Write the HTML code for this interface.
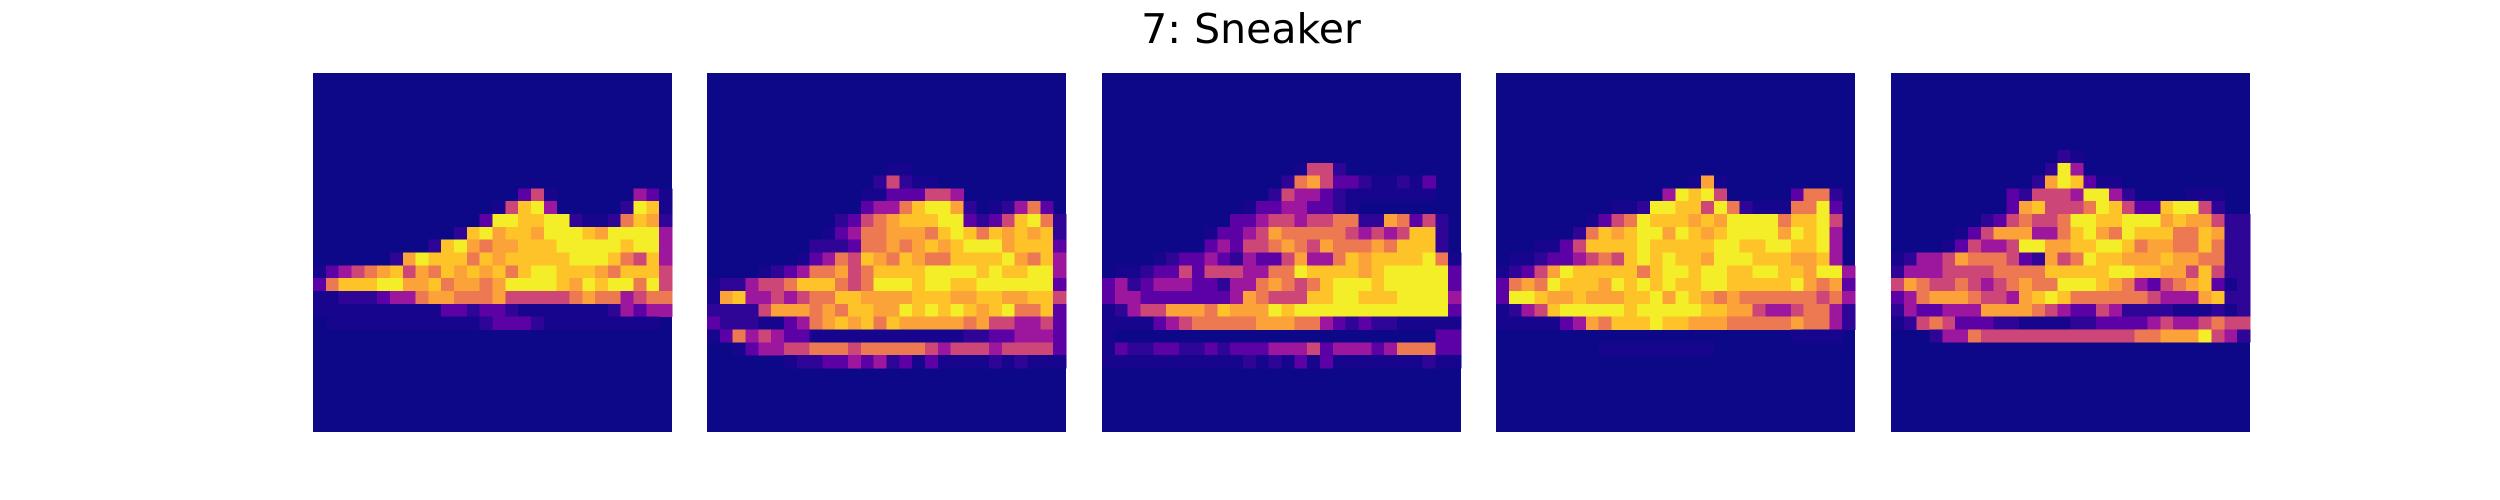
<!DOCTYPE html>
<html><head><meta charset="utf-8"><style>
html,body{margin:0;padding:0;background:#fff;width:2500px;height:500px;overflow:hidden}
svg{display:block}
</style></head><body>
<svg id="fig" width="2500" height="500" xmlns="http://www.w3.org/2000/svg">
<rect width="2500" height="500" fill="#ffffff"/>
<text x="1251" y="43" text-anchor="middle" font-family="'DejaVu Sans','Liberation Sans',sans-serif" font-size="41" fill="#000">7: Sneaker</text>
<g id="panels"></g>
</svg>
<script>
const classLabel = "7: Sneaker";
const panelIds = ["sample-1","sample-2","sample-3","sample-4","sample-5"];
const Z = "0000000000000000000000000000";
const img1 = [Z,Z,Z,Z,Z,Z,Z,Z,Z,
"0000000000000000351000000431",
"0000000000000015894000002981",
"0000000000000399889921126872",
"0000000000028978879998799994",
"0000000002897677888999998994",
"0000002798886878888899986584",
"1345678576878786899888768885",
"3688899778677679999879899695",
"1122234467766675555567664566",
"1111111111332332111111124344",
"0111111111111233321111111110",
Z,Z,Z,Z,Z,Z,Z,Z];
const img2 = [Z,Z,Z,Z,Z,Z,Z,
"0000000000000011000000000000",
"0000000000000252110000000000",
"0000000000001133355400000000",
"0000000000003446899720124630",
"0000000000235678889932358962",
"0000000001346677768986878782",
"0000000022236676787899978883",
"0000000134658768766888897684",
"0000123466756888899998988994",
"1224556888656999899889999993",
"1784454566887777888778877885",
"2222577767688779898987896683",
"3222113467878687777767554453",
"1364543311111111111122334443",
"0013445566656666654555455553",
"0000001223343423131111212111",
Z,Z,Z,Z,Z];
const img3 = [Z,Z,Z,Z,Z,Z,Z,
"0000000000000001552000000000",
"0000000000000026753321121300",
"0000000000000254432111111100",
"0000000000013344332100000000",
"0000000000334554556622763520",
"0000000013345766666545458820",
"0000000034355676576667688820",
"0000123343243357446878888961",
"0112335355544669888878999993",
"3423444332446765689998999993",
"3443333333476555889988899994",
"1245577768777989999999999993",
"1111345666667776643232211111",
"1000000000000000000000000033",
"1322332232333444534443466633",
"1111111111121213131111111211",
Z,Z,Z,Z,Z];
const img4 = [Z,Z,Z,Z,Z,Z,Z,Z,
"0000000000000001710000000000",
"0000000000000498950000036620",
"0000000001129988596211166930",
"0000000135698887879999688950",
"0000002687899798789999798940",
"0001135888898888899889988940",
"0112334565898988799988877840",
"1235798888868998998899887994",
"3676988879898988998888897673",
"3998778777889798767666666564",
"1245899999899999887754456642",
"1111134768889887776666676642",
"0000000000000000000000011110",
"0000000011111111100000000000",
Z,Z,Z,Z,Z,Z];
const img5 = [Z,Z,Z,Z,Z,Z,
"0000000000000210000000000000",
"0000000000002940000000000000",
"0000000000027983110000000000",
"0000000003255549942000011100",
"0000000003785556985338995200",
"0000000235655699889997877522",
"0000013577744689769888668722",
"0000135445997788998677668622",
"1244576665327569887778776622",
"2444555566668888899887758522",
"5765565456766999876435678312",
"3467776554789866666654447822",
"2433444777765433542222111212",
"1256533322111122333345445655",
"0002446555555555555667779542",
Z,Z,Z,Z,Z,Z,Z];
const images = [img1,img2,img3,img4,img5];
const palette = ["#0d0887","#17068d","#2e0597","#5c01a6","#9c179e","#cc4778","#ed7953","#fba238","#fdc328","#f3ee27"];

const panelLeft = [313,707,1102,1496,1891];
const panelTop = 73, panelSize = 359, gridN = 28;
const NS = "http://www.w3.org/2000/svg";
const root = document.getElementById("panels");
const cellW = panelSize / gridN;
function xScale(p, c){ return panelLeft[p] + c * cellW; }
function yScale(r){ return panelTop + r * cellW; }
images.forEach((img, p) => {
  const g = document.createElementNS(NS, "g");
  
  
  g.setAttribute("shape-rendering", "crispEdges");
  const bg = document.createElementNS(NS, "rect");
  bg.setAttribute("x", panelLeft[p]); bg.setAttribute("y", panelTop);
  bg.setAttribute("width", panelSize); bg.setAttribute("height", panelSize);
  bg.setAttribute("fill", palette[0]);
  
  
  g.appendChild(bg);
  img.forEach((row, r) => {
    for (let c = 0; c < gridN; c++) {
      const v = +row[c];
      if (!v) continue;
      const x0 = xScale(p, c), x1 = xScale(p, c + 1);
      const y0 = yScale(r), y1 = yScale(r + 1);
      const rect = document.createElementNS(NS, "rect");
      rect.setAttribute("x", x0.toFixed(2));
      rect.setAttribute("y", y0.toFixed(2));
      rect.setAttribute("width", (x1 - x0 + 0.4).toFixed(2));
      rect.setAttribute("height", (y1 - y0 + 0.4).toFixed(2));
      rect.setAttribute("fill", palette[v]);
      
      
      g.appendChild(rect);
    }
  });
  root.appendChild(g);
});
</script>
</body></html>
